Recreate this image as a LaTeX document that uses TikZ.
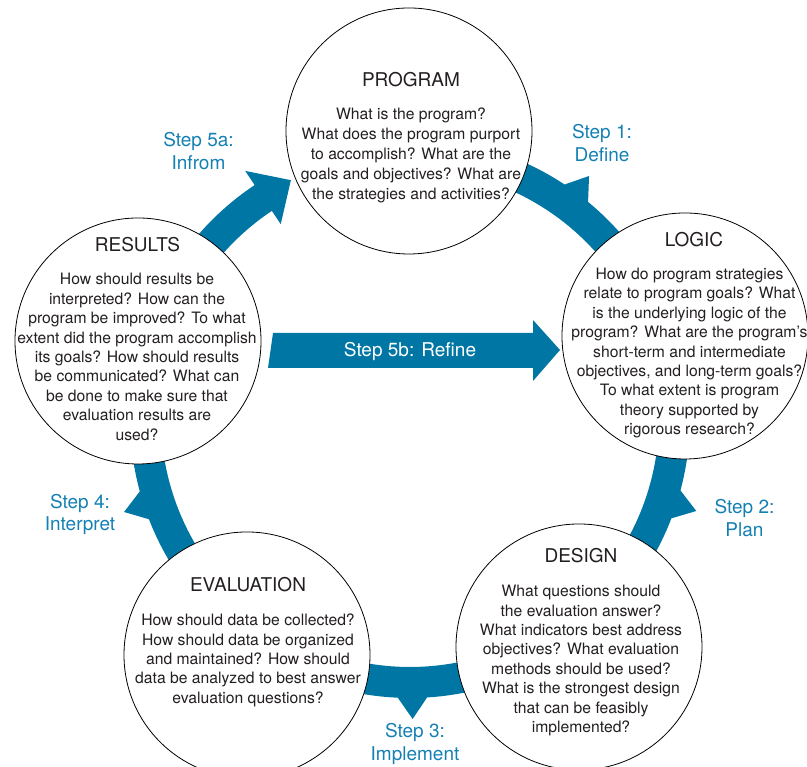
\documentclass[tikz,border=0pt]{standalone}
\usepackage{fontspec}
\setmainfont{TeX Gyre Heros}
\usetikzlibrary{calc}

\definecolor{bandblue}{RGB}{0,118,165}
\definecolor{labelblue}{RGB}{20,128,180}
\definecolor{inkgray}{RGB}{35,31,32}

\tikzset{
  stage/.style={circle, draw=black, line width=0.8pt, fill=white,
    minimum size=246pt, inner sep=0pt},
  stagetitle/.style={text=inkgray, inner sep=0pt, font=\fontsize{19}{22}\selectfont},
  stagebody/.style={text=inkgray, align=center, inner sep=0pt,
    font=\fontsize{15.7}{19.4}\selectfont},
  steplabel/.style={text=labelblue, align=center, inner sep=0pt,
    font=\fontsize{19}{22.5}\selectfont},
  band/.style={fill=bandblue},
}

% curved band around the hub from angle #1 to angle #2, with a tooth on
% its outer rim at angle #3
\newcommand{\toothband}[3]{%
  \pgfmathsetmacro{\toothA}{#3+3}%
  \pgfmathsetmacro{\toothB}{#3-3}%
  \fill[band] ($(hub)+(#1:280)$) arc[start angle=#1, end angle=\toothA, radius=280pt]
    -- ($(hub)+(#3:301)$) -- ($(hub)+(\toothB:280)$)
    arc[start angle=\toothB, end angle=#2, radius=280pt]
    -- ($(hub)+(#2:249)$) arc[start angle=#2, end angle=#1, radius=249pt] -- cycle;}

\begin{document}
\begin{tikzpicture}[x=1pt, y=1pt]
\useasboundingbox (0,0) rectangle (807,767);

\coordinate (hub) at (410,349);

% cycle bands between the stages
\toothband{90}{18}{53.5}
\toothband{18}{-54}{-18}
\toothband{-54}{-126}{-89.5}
\toothband{-126}{-198}{-161.8}

% band with full arrowhead, results -> program
\fill[band] ($(hub)+(162:280)$) arc[start angle=162, end angle=123.7, radius=280pt]
  -- ($(hub)+(123.7:297)$) -- ($(hub)+(116.6:266)$) -- ($(hub)+(123.7:233)$)
  -- ($(hub)+(123.7:249)$) arc[start angle=123.7, end angle=162, radius=249pt] -- cycle;

% straight block arrow, results -> logic
\coordinate (refA) at (273,434);
\coordinate (refB) at (268,399);
\coordinate (refTip) at (560,417);
\fill[band] (refA) -- (533,434) -- (533,447) -- (refTip) -- (533,386) -- (533,399)
  -- (refB) -- cycle;
\node[text=white, inner sep=0pt, font=\fontsize{19}{22}\selectfont] (refine)
  at (410,416) {Step 5b: Refine};

% stages
\node[stage] (program) at (409,636) {};
\node[stage] (logic) at (685,431) {};
\node[stage] (design) at (579,120) {};
\node[stage] (evaluation) at (247,112) {};
\node[stage] (results) at (138,426) {};

% stage titles
\node[stagetitle] (programT) at (411,687) {PROGRAM};
\node[stagetitle] (logicT) at (694,527) {LOGIC};
\node[stagetitle] (resultsT) at (137.5,522) {RESULTS};
\node[stagetitle] (evaluationT) at (248,182) {EVALUATION};
\node[stagetitle] (designT) at (581,211) {DESIGN};

% stage questions
\node[stagebody, font=\fontsize{15.7}{19.8}\selectfont] (programB) at (411,611.5)
  {What is the program?\\
  What does the program purport\\ to accomplish? What are the\\
  goals and objectives? What are\\ the strategies and activities?};
\node[stagebody] (logicB) at (689.5,414) {How do program strategies\\
  relate to program goals? What\\ is the underlying logic of the\\
  program? What are the program's\\ short-term and intermediate\\
  objectives, and long-term goals?\\ To what extent is program\\
  theory supported by\\ rigorous research?};
\node[stagebody] (resultsB) at (137,410) {How should results be\\
  interpreted? How can the\\ program be improved? To what\\
  extent did the program accomplish\\ its goals? How should results\\
  be communicated? What can\\ be done to make sure that\\
  evaluation results are\\ used?};
\node[stagebody] (evaluationB) at (248,106.5) {How should data be collected?\\
  How should data be organized\\ and maintained? How should\\
  data be analyzed to best answer\\ evaluation questions?};
\node[stagebody] (designB) at (581,106.5) {What questions should\\
  the evaluation answer?\\ What indicators best address\\
  objectives? What evaluation\\ methods should be used?\\
  What is the strongest design\\ that can be feasibly\\ implemented?};

% step labels
\node[steplabel] (inform) at (198.5,616) {Step 5a:\\Infrom};
\node[steplabel] (define) at (602,624) {Step 1:\\Define};
\node[steplabel] (plan) at (744.5,249) {Step 2:\\Plan};
\node[steplabel] (implement) at (415,23) {Step 3:\\Implement};
\node[steplabel] (interpret) at (80,252.5) {Step 4:\\Interpret};
\end{tikzpicture}
\end{document}
